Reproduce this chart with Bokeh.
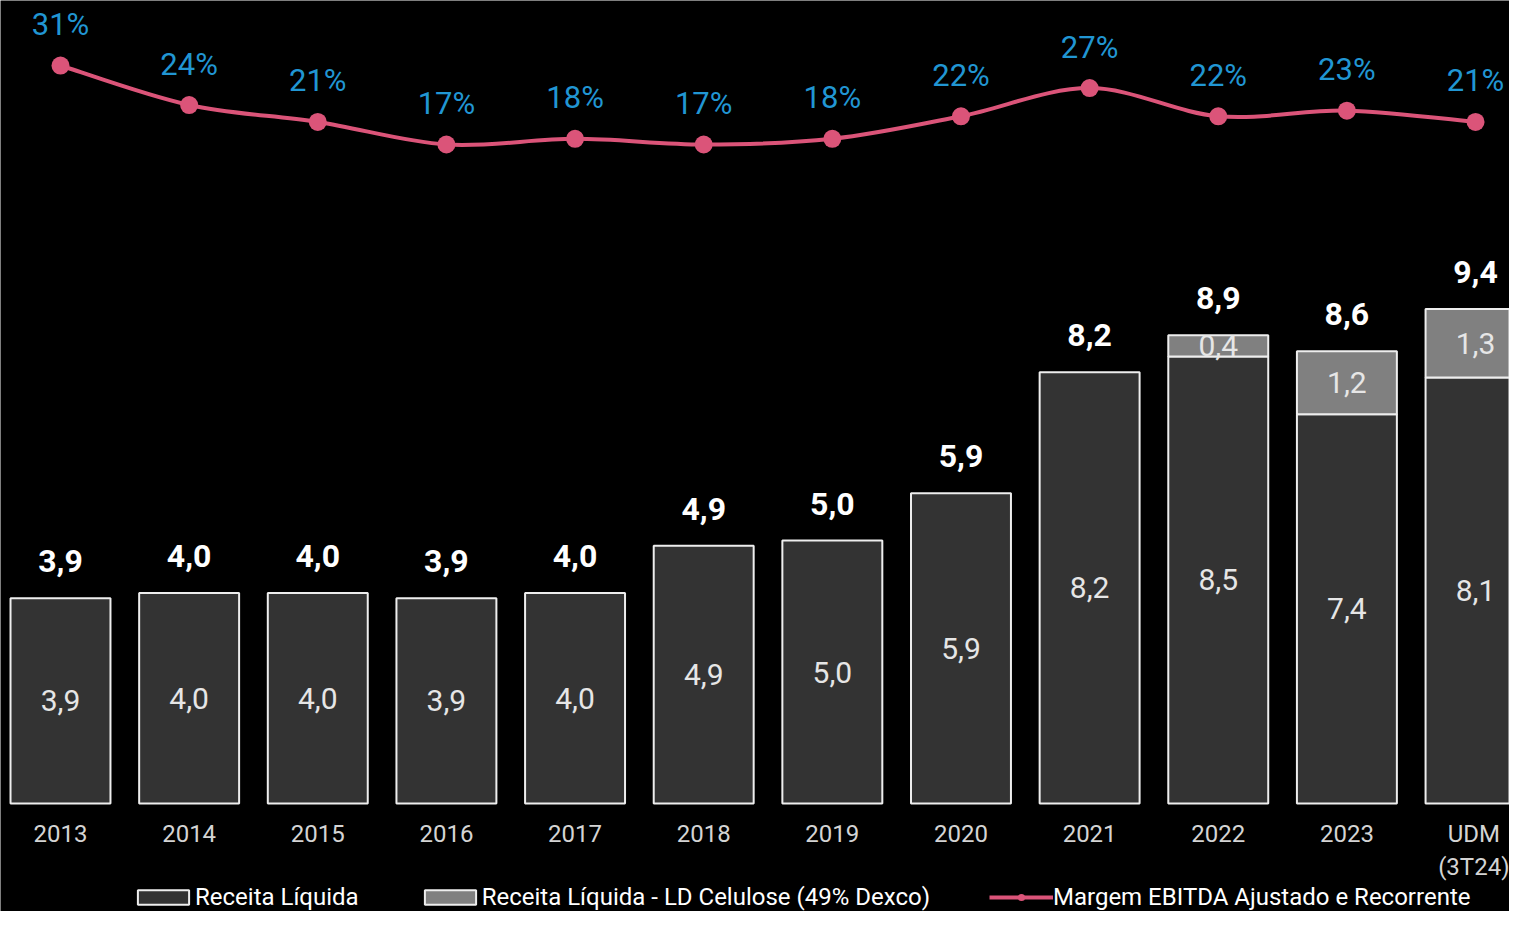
from bokeh.plotting import figure
from bokeh.models import (Range1d, LinearAxis, FixedTicker, ColumnDataSource,
                          Legend, LegendItem)
from bokeh.core.properties import value
from bokeh.embed import file_html
from bokeh.resources import INLINE

# ---------------- data ----------------
categories = ["2013", "2014", "2015", "2016", "2017", "2018", "2019", "2020",
              "2021", "2022", "2023", "UDM\n(3T24)"]
receita = [3.9, 4.0, 4.0, 3.9, 4.0, 4.9, 5.0, 5.9, 8.2, 8.5, 7.4, 8.1]
ld_celulose = [0, 0, 0, 0, 0, 0, 0, 0, 0, 0.4, 1.2, 1.3]
margem = [31, 24, 21, 17, 18, 17, 18, 22, 27, 22, 23, 21]

def fmt(v):
    return f"{v:.1f}".replace(".", ",")

n = len(categories)
xs = list(range(n))
totals = [a + b for a, b in zip(receita, ld_celulose)]

DARK = "#333333"
GRAY = "#808080"
EDGE = "#eeeeee"
PINK = "#DB5479"
BLUE = "#2196D3"
FONT = "Roboto"

p = figure(frame_width=1509, frame_height=911, min_border=0,
           x_range=Range1d(-0.4664, 11.264), y_range=Range1d(-2.053, 15.266),
           output_backend="svg", toolbar_location=None,
           x_axis_location=None, y_axis_location=None)
p.background_fill_color = "#000000"
p.border_fill_color = "#000000"
p.outline_line_color = None
p.xgrid.visible = False
p.ygrid.visible = False
p.extra_y_ranges = {"pct": Range1d(-118.99, 42.53)}

# ---------------- bars ----------------
BW = 0.777
dark_src = ColumnDataSource(dict(x=xs, top=receita, bottom=[0] * n,
                                 mid=[v / 2 for v in receita],
                                 lab=[fmt(v) for v in receita]))
r_dark = p.vbar(x="x", top="top", bottom="bottom", width=BW, source=dark_src,
                fill_color=DARK, line_color=EDGE, line_width=2)

gi = [i for i in xs if ld_celulose[i] > 0]
gray_src = ColumnDataSource(dict(
    x=[xs[i] for i in gi],
    bottom=[receita[i] for i in gi],
    top=[totals[i] for i in gi],
    mid=[receita[i] + ld_celulose[i] / 2 for i in gi],
    lab=[fmt(ld_celulose[i]) for i in gi]))
r_gray = p.vbar(x="x", top="top", bottom="bottom", width=BW, source=gray_src,
                fill_color=GRAY, line_color=EDGE, line_width=2)

p.text(x="x", y="mid", text="lab", source=dark_src, text_font=value(FONT),
       text_font_size="30px", text_align="center", text_baseline="middle",
       text_color="#e6e6e6")
p.text(x="x", y="mid", text="lab", source=gray_src, text_font=value(FONT),
       text_font_size="30px", text_align="center", text_baseline="middle",
       text_color="#e6e6e6")

tot_src = ColumnDataSource(dict(x=xs, y=totals, lab=[fmt(v) for v in totals]))
p.text(x="x", y="y", text="lab", source=tot_src, text_font=value(FONT),
       text_font_size="32px", text_font_style="bold", text_align="center",
       text_baseline="alphabetic", y_offset=-37, text_color="#ffffff")

# ---------------- smooth margin line ----------------
P = list(zip(xs, margem))
bz = dict(x0=[], y0=[], x1=[], y1=[], cx0=[], cy0=[], cx1=[], cy1=[])
for i in range(n - 1):
    p0 = P[i - 1] if i > 0 else P[i]
    p1 = P[i]
    p2 = P[i + 1]
    p3 = P[i + 2] if i + 2 < n else P[i + 1]
    bz["x0"].append(p1[0]); bz["y0"].append(p1[1])
    bz["x1"].append(p2[0]); bz["y1"].append(p2[1])
    bz["cx0"].append(p1[0] + (p2[0] - p0[0]) / 6)
    bz["cy0"].append(p1[1] + (p2[1] - p0[1]) / 6)
    bz["cx1"].append(p2[0] - (p3[0] - p1[0]) / 6)
    bz["cy1"].append(p2[1] - (p3[1] - p1[1]) / 6)
r_line = p.bezier(x0="x0", y0="y0", x1="x1", y1="y1", cx0="cx0", cy0="cy0",
                  cx1="cx1", cy1="cy1", source=ColumnDataSource(bz),
                  line_color=PINK, line_width=4, y_range_name="pct")

m_src = ColumnDataSource(dict(x=xs, y=margem, lab=[f"{v}%" for v in margem]))
r_pts = p.scatter(x="x", y="y", source=m_src, size=18, fill_color=PINK,
                  line_color=None, y_range_name="pct")
p.text(x="x", y="y", text="lab", source=m_src, y_range_name="pct",
       text_font=value(FONT), text_font_size="31px", text_align="center",
       text_baseline="alphabetic", y_offset=-41, text_color=BLUE)

# ---------------- category axis ----------------
xaxis = LinearAxis(fixed_location=0, ticker=FixedTicker(ticks=xs),
                   major_label_overrides={i: c for i, c in enumerate(categories)})
xaxis.axis_line_color = None
xaxis.major_tick_line_color = None
xaxis.minor_tick_line_color = None
xaxis.major_label_standoff = 10
xaxis.major_label_text_font = FONT
xaxis.major_label_text_font_size = "24px"
xaxis.major_label_text_color = "#d4d4d4"
p.add_layout(xaxis, "below")

# ---------------- legend ----------------
legend = Legend(items=[
    LegendItem(label="Receita Líquida", renderers=[r_dark]),
    LegendItem(label="Receita Líquida - LD Celulose (49% Dexco)", renderers=[r_gray]),
    LegendItem(label="Margem EBITDA Ajustado e Recorrente", renderers=[r_line, r_pts]),
], location=(131, 0), orientation="horizontal")
legend.background_fill_alpha = 0
legend.border_line_color = None
legend.padding = 0
legend.margin = 0
legend.spacing = 59
legend.glyph_width = 64
legend.glyph_height = 18
legend.label_standoff = 0
legend.label_text_font = FONT
legend.label_text_font_size = "24px"
legend.label_text_color = "#ffffff"
legend.label_text_baseline = "middle"
p.add_layout(legend)

open("out.html", "w").write(file_html(p, INLINE))
